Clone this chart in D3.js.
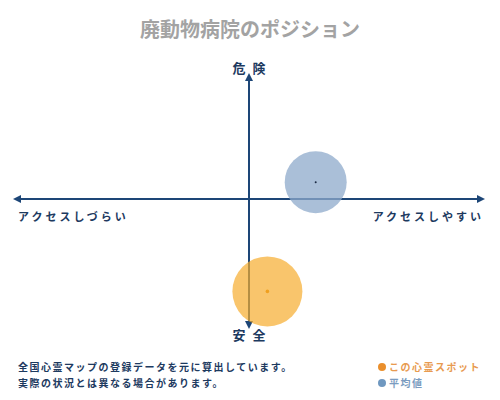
<!DOCTYPE html>
<html>
<head>
  <meta charset="utf-8">
  <title>廃動物病院のポジション</title>
  <script src="https://d3js.org/d3.v7.min.js"></script>
  <style>
    body { margin: 0; background: #fff; }
    text { font-family: "Noto Sans CJK JP", sans-serif; }
  </style>
</head>
<body>
<script>
// chart values
var seriesNames = ["この心霊スポット", "平均値"];
var accessValues = [0.08, 0.29];   // x: access (negative = hard, positive = easy)
var dangerValues = [-0.77, 0.14];  // y: danger (negative = safe, positive = dangerous)
var axisLabels = {top: "危 険", bottom: "安 全", left: "アクセスしづらい", right: "アクセスしやすい"};
var noteLines = ["全国心霊マップの登録データを元に算出しています。", "実際の状況とは異なる場合があります。"];

var width = 500, height = 400;
var cx = 249, cy = 199;
var fills = ["#f6ad2e", "#8eaacb"];
var dotFills = ["#f0a020", "#1a2a44"];
var legendFills = ["#ea8f2c", "#6f98c0"];
var legendText = ["#e89a50", "#7b9cc0"];
var radii = [35, 31];
var navy = "#1d4677";

var svg = d3.select("body").append("svg")
  .attr("width", width).attr("height", height);

var x = d3.scaleLinear().domain([-1, 1]).range([cx - 230, cx + 230]);
var y = d3.scaleLinear().domain([-1, 1]).range([cy + 120, cy - 120]);

var defs = svg.append("defs");
defs.append("marker").attr("id", "arrow")
  .attr("viewBox", "0 0 10 10").attr("refX", 5).attr("refY", 5)
  .attr("markerWidth", 4).attr("markerHeight", 4).attr("orient", "auto-start-reverse")
  .append("path").attr("d", "M0,0 L10,5 L0,10 z").attr("fill", navy);

// title
svg.append("text").attr("x", 250).attr("y", 37).attr("text-anchor", "middle")
  .attr("font-size", 20).attr("font-weight", "bold").attr("fill", "#a3a3a3")
  .text("廃動物病院のポジション");

// axes
svg.append("line")
  .attr("x1", x(-1) - 2).attr("x2", x(1) + 2).attr("y1", cy).attr("y2", cy)
  .attr("stroke", navy).attr("stroke-width", 2)
  .attr("marker-start", "url(#arrow)").attr("marker-end", "url(#arrow)");
svg.append("line")
  .attr("x1", cx).attr("x2", cx).attr("y1", y(1) - 2).attr("y2", y(-1) + 6)
  .attr("stroke", navy).attr("stroke-width", 2)
  .attr("marker-start", "url(#arrow)").attr("marker-end", "url(#arrow)");

// axis labels
var lab = svg.append("g").attr("fill", "#1d3a5f").attr("font-weight", "bold");
lab.append("text").attr("x", cx + 1).attr("y", 73).attr("text-anchor", "middle")
  .attr("font-size", 13).attr("letter-spacing", 2).text(axisLabels.top);
lab.append("text").attr("x", cx + 1).attr("y", 340).attr("text-anchor", "middle")
  .attr("font-size", 13).attr("letter-spacing", 2).text(axisLabels.bottom);
lab.append("text").attr("x", 18).attr("y", 221).attr("font-size", 11)
  .attr("letter-spacing", 3).text(axisLabels.left);
lab.append("text").attr("x", 484).attr("y", 221).attr("font-size", 11)
  .attr("text-anchor", "end").attr("letter-spacing", 3).text(axisLabels.right);

// points
var pts = svg.selectAll("g.pt").data(seriesNames).enter().append("g").attr("class", "pt");
pts.append("circle")
  .attr("cx", function(d, i) { return x(accessValues[i]); })
  .attr("cy", function(d, i) { return y(dangerValues[i]); })
  .attr("r", function(d, i) { return radii[i]; })
  .attr("fill", function(d, i) { return fills[i]; })
  .attr("fill-opacity", function(d, i) { return i == 0 ? 0.7 : 0.75; });
pts.append("circle")
  .attr("cx", function(d, i) { return x(accessValues[i]); })
  .attr("cy", function(d, i) { return y(dangerValues[i]); })
  .attr("r", function(d, i) { return i == 0 ? 1.8 : 1; })
  .attr("fill", function(d, i) { return dotFills[i]; });

// notes
svg.append("g").selectAll("text").data(noteLines).enter().append("text")
  .attr("x", 18).attr("y", function(d, i) { return 371 + i * 16; })
  .attr("font-size", 10).attr("font-weight", "bold").attr("letter-spacing", 1.5)
  .attr("fill", "#1d3a5f").text(function(d) { return d; });

// legend
var leg = svg.append("g").selectAll("g").data(seriesNames).enter().append("g")
  .attr("transform", function(d, i) { return "translate(382," + (367 + i * 16) + ")"; });
leg.append("circle").attr("r", 4).attr("fill", function(d, i) { return legendFills[i]; });
leg.append("text").attr("x", 7).attr("y", 4).attr("font-size", 10).attr("font-weight", "bold")
  .attr("letter-spacing", 1.5)
  .attr("fill", function(d, i) { return legendText[i]; }).text(function(d) { return d; });
</script>
</body>
</html>
